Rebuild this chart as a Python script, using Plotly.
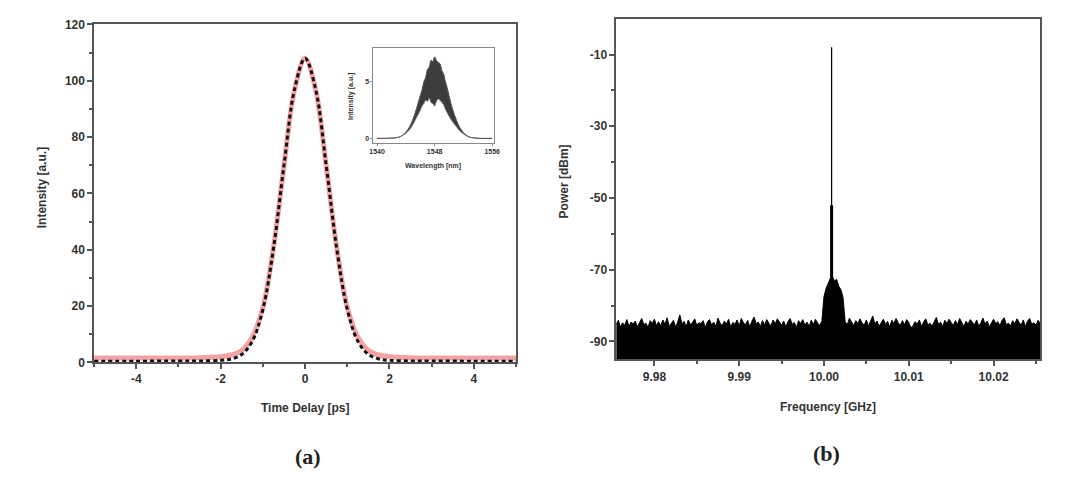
import numpy as np
import plotly.graph_objects as go

# ---------------- Panel (a): autocorrelation trace ----------------
time_ps = [-5.0, -4.0, -3.0, -2.5, -2.0, -1.75, -1.5, -1.25, -1.0, -0.75, -0.5, -0.25, 0.0,
           0.25, 0.5, 0.75, 1.0, 1.25, 1.5, 1.75, 2.0, 2.5, 3.0, 4.0, 5.0]
measured_int = [1.5, 1.5, 1.5, 1.6, 2.0, 2.6, 4.2, 9.0, 19.5, 40.6, 69.8, 96.8, 108.0,
                96.8, 69.8, 40.6, 19.5, 9.0, 4.2, 2.6, 2.0, 1.6, 1.5, 1.5, 1.5]
fit_int = [0.4, 0.4, 0.5, 0.5, 0.7, 1.2, 2.8, 7.5, 18.8, 40.4, 70.0, 97.0, 108.0,
           97.0, 70.0, 40.4, 18.8, 7.5, 2.8, 1.2, 0.7, 0.5, 0.5, 0.4, 0.4]
time_ticks = [-4, -2, 0, 2, 4]
time_ticktext = ["-4", "-2", "0", "2", "4"]
int_ticks = [0, 20, 40, 60, 80, 100, 120]

# Inset: optical spectrum
wl_nm = [1540.0, 1541.0, 1542.0, 1543.0, 1543.5, 1544.0, 1544.5, 1545.0, 1545.5, 1546.0,
         1546.25, 1546.5, 1546.75, 1547.0, 1547.25, 1547.5, 1547.75, 1548.0, 1548.25,
         1548.5, 1548.75, 1549.0, 1549.25, 1549.5, 1549.75, 1550.0, 1550.5, 1551.0,
         1551.5, 1552.0, 1552.5, 1553.0, 1554.0, 1556.0]
spec_upper = [0.05, 0.05, 0.07, 0.15, 0.3, 0.6, 1.05, 1.75, 2.7, 3.8, 4.3, 5.0, 5.4, 6.1,
              6.3, 6.9, 6.8, 7.2, 6.9, 6.7, 6.6, 6.0, 5.7, 5.0, 4.5, 3.8, 2.6, 1.7, 1.0,
              0.55, 0.28, 0.14, 0.06, 0.05]
spec_lower = [0.05, 0.05, 0.07, 0.15, 0.3, 0.5, 0.8, 1.3, 1.9, 2.5, 2.9, 3.1, 3.4, 3.3,
              3.6, 3.2, 3.1, 2.9, 3.3, 3.5, 3.4, 3.2, 3.0, 2.6, 2.3, 2.0, 1.5, 1.1, 0.7,
              0.45, 0.25, 0.14, 0.06, 0.05]
wl_ticks = [1540, 1548, 1556]
spec_ticks = [0, 5]

# ---------------- Panel (b): RF spectrum ----------------
freq_start_ghz = 9.9755
freq_step_ghz = 0.00025
noise_dbm = [
    -85.2, -84.1, -86.0, -84.8, -85.5, -83.9, -85.8, -84.6, -85.1, -84.3,
    -85.9, -84.7, -83.6, -85.3, -84.9, -86.1, -84.2, -85.0, -83.8, -85.6,
    -84.5, -85.7, -84.0, -85.2, -83.4, -85.8, -84.9, -84.1, -86.0, -84.6,
    -82.6, -85.1, -84.4, -85.9, -84.0, -85.3, -84.7, -83.7, -85.5, -84.8,
    -85.0, -84.2, -86.2, -84.5, -83.9, -85.4, -84.6, -85.8, -83.5, -84.9,
    -85.6, -84.3, -85.1, -83.8, -86.0, -84.7, -85.2, -84.0, -85.7, -83.6,
    -84.8, -85.3, -84.1, -85.9, -84.4, -83.2, -85.0, -84.6, -85.8, -84.2,
    -85.4, -83.9, -84.9, -85.6, -84.0, -85.1, -83.7, -84.8, -85.5, -84.3,
    -85.9, -84.5, -83.6, -85.2, -84.7, -86.1, -84.2, -85.0, -83.9, -85.4,
    -84.6, -85.8, -84.1, -85.3, -83.8, -84.9, -85.5, -84.4,
    -77.5, -75.2, -73.6, -72.4, -72.0, -73.1, -72.7, -74.6, -75.6, -77.8,
    -84.6, -85.3, -83.5, -84.8, -85.6, -84.2, -85.0, -83.7, -84.9, -85.4,
    -84.0, -85.7, -84.5, -82.9, -85.1, -84.3, -85.8, -84.7, -83.8, -85.2,
    -84.4, -85.9, -84.1, -85.0, -83.6, -84.8, -85.5, -84.2, -85.3, -83.9,
    -84.7, -86.2, -85.6, -84.5, -85.1, -84.0, -85.8, -84.6, -83.7, -85.4,
    -84.9, -85.7, -84.3, -83.3, -85.2, -84.6, -85.9, -84.1, -85.0, -83.8,
    -84.7, -85.5, -84.2, -85.3, -83.6, -84.9, -85.8, -84.4, -85.1, -83.9,
    -84.6, -85.4, -84.0, -85.7, -84.8, -83.5, -85.2, -84.3, -85.9, -84.7,
    -83.8, -85.0, -84.5, -85.6, -84.1, -83.4, -85.3, -84.9, -85.7, -84.2,
    -85.1, -83.7, -84.6, -85.5, -84.0, -85.8, -84.4, -83.6, -85.2, -84.8,
    -85.4, -84.1, -85.0,
]
floor_dbm = -100.0
carrier_ghz = 10.0009
carrier_dbm = -8.0
carrier_skirt_dbm = -52.0
freq_ticks = [9.98, 9.99, 10.0, 10.01, 10.02]
freq_ticktext = ["9.98", "9.99", "10.00", "10.01", "10.02"]
power_ticks = [-90, -70, -50, -30, -10]
power_ticktext = ["-90", "-70", "-50", "-30", "-10"]

freq_ghz = freq_start_ghz + freq_step_ghz * np.arange(len(noise_dbm))

PINK = "#f3a3a3"
AXC = "#555555"
TXT = "#333333"
SANS = "Liberation Sans"

fig = go.Figure()

# panel (a)
fig.add_trace(go.Scatter(x=time_ps, y=measured_int, mode="lines", line=dict(color=PINK, width=5, shape="spline"),
                         xaxis="x", yaxis="y", showlegend=False))
fig.add_trace(go.Scatter(x=time_ps, y=fit_int, mode="lines",
                         line=dict(color="#111111", width=3, dash="4px,3px", shape="spline"),
                         xaxis="x", yaxis="y", showlegend=False))

# inset
fig.add_trace(go.Scatter(x=wl_nm, y=spec_lower, mode="lines", line=dict(color="#777777", width=1, shape="spline"),
                         xaxis="x3", yaxis="y3", showlegend=False))
fig.add_trace(go.Scatter(x=wl_nm, y=spec_upper, mode="lines", line=dict(color="#555555", width=1, shape="spline"),
                         fill="tonexty", fillcolor="#3c3c3c", xaxis="x3", yaxis="y3", showlegend=False))

# panel (b)
fig.add_trace(go.Scatter(x=freq_ghz, y=[floor_dbm] * len(freq_ghz), mode="lines", line=dict(width=0, color="black"),
                         xaxis="x2", yaxis="y2", showlegend=False, hoverinfo="skip"))
fig.add_trace(go.Scatter(x=freq_ghz, y=noise_dbm, mode="lines", line=dict(color="black", width=1),
                         fill="tonexty", fillcolor="black", xaxis="x2", yaxis="y2", showlegend=False))
fig.add_trace(go.Scatter(x=[carrier_ghz, carrier_ghz], y=[floor_dbm, carrier_skirt_dbm], mode="lines",
                         line=dict(color="black", width=3), xaxis="x2", yaxis="y2", showlegend=False))
fig.add_trace(go.Scatter(x=[carrier_ghz, carrier_ghz], y=[carrier_skirt_dbm, carrier_dbm], mode="lines",
                         line=dict(color="black", width=1.2), xaxis="x2", yaxis="y2", showlegend=False))

tickf = dict(family=SANS, size=12, color=TXT, weight="bold")
common = dict(showgrid=False, zeroline=False, showline=True, mirror=True, linecolor=AXC, linewidth=1.5,
              ticks="outside", ticklen=5, tickwidth=1.5, tickcolor=AXC, tickfont=tickf)
small_tf = dict(family=SANS, size=7, color=TXT, weight="bold")
inset_common = dict(showgrid=False, zeroline=False, showline=True, mirror=True, linecolor="#888888", linewidth=1,
                    ticks="outside", ticklen=2, tickcolor="#888888", tickfont=small_tf)

fig.update_layout(
    width=1065, height=480, margin=dict(l=0, r=0, t=0, b=0),
    paper_bgcolor="white", plot_bgcolor="white",
    xaxis=dict(domain=[0.0854, 0.4854], range=[-5, 5], tickvals=time_ticks, ticktext=time_ticktext, anchor="y",
               minor=dict(tickvals=[-5, -3, -1, 1, 3, 5], ticks="outside", ticklen=3, tickcolor=AXC), **common),
    yaxis=dict(domain=[0.2375, 0.9625], range=[0, 120], tickvals=int_ticks, anchor="x",
               minor=dict(tickvals=[10, 30, 50, 70, 90, 110], ticks="outside", ticklen=3, tickcolor=AXC), **common),
    xaxis2=dict(domain=[0.5803, 0.9822], range=[9.9755, 10.0255], tickvals=freq_ticks,
                ticktext=freq_ticktext, anchor="y2",
                minor=dict(tickvals=[9.985, 9.995, 10.005, 10.015, 10.025], ticks="outside", ticklen=3, tickcolor=AXC),
                **common),
    yaxis2=dict(domain=[0.2438, 0.975], range=[-95, 0], tickvals=power_ticks, ticktext=power_ticktext, anchor="x2",
                minor=dict(tickvals=[-80, -60, -40, -20], ticks="outside", ticklen=3, tickcolor=AXC), **common),
    xaxis3=dict(domain=[0.3502, 0.4648], range=[1539.5, 1556.3], tickvals=wl_ticks, anchor="y3", **inset_common),
    yaxis3=dict(domain=[0.7083, 0.9125], range=[-0.35, 8], tickvals=spec_ticks, anchor="x3", **inset_common),
)

ann_font = dict(family=SANS, size=12, color=TXT, weight="bold")
annots = [
    dict(text="Intensity [a.u.]", x=38 / 1065, y=1 - 186 / 480, textangle=-90, font=ann_font),
    dict(text="Time Delay [ps]", x=304 / 1065, y=1 - 413 / 480, font=ann_font),
    dict(text="Power [dBm]", x=565 / 1065, y=1 - 180 / 480, textangle=-90, font=ann_font),
    dict(text="Frequency [GHz]", x=832 / 1065, y=1 - 412 / 480, font=ann_font),
    dict(text="Intensity [a.u.]", x=351 / 1065, y=1 - 92 / 480, textangle=-90, font=small_tf),
    dict(text="Wavelength [nm]", x=433 / 1065, y=1 - 164 / 480, font=small_tf),
    dict(text="(a)", x=307 / 1065, y=1 - 463 / 480,
         font=dict(family="Liberation Serif", size=22, color="#222222", weight="bold")),
    dict(text="(b)", x=830 / 1065, y=1 - 460 / 480,
         font=dict(family="Liberation Serif", size=22, color="#222222", weight="bold")),
]
for a in annots:
    fig.add_annotation(xref="paper", yref="paper", showarrow=False, xanchor="center", yanchor="middle", **a)

fig.write_html("out.html")
